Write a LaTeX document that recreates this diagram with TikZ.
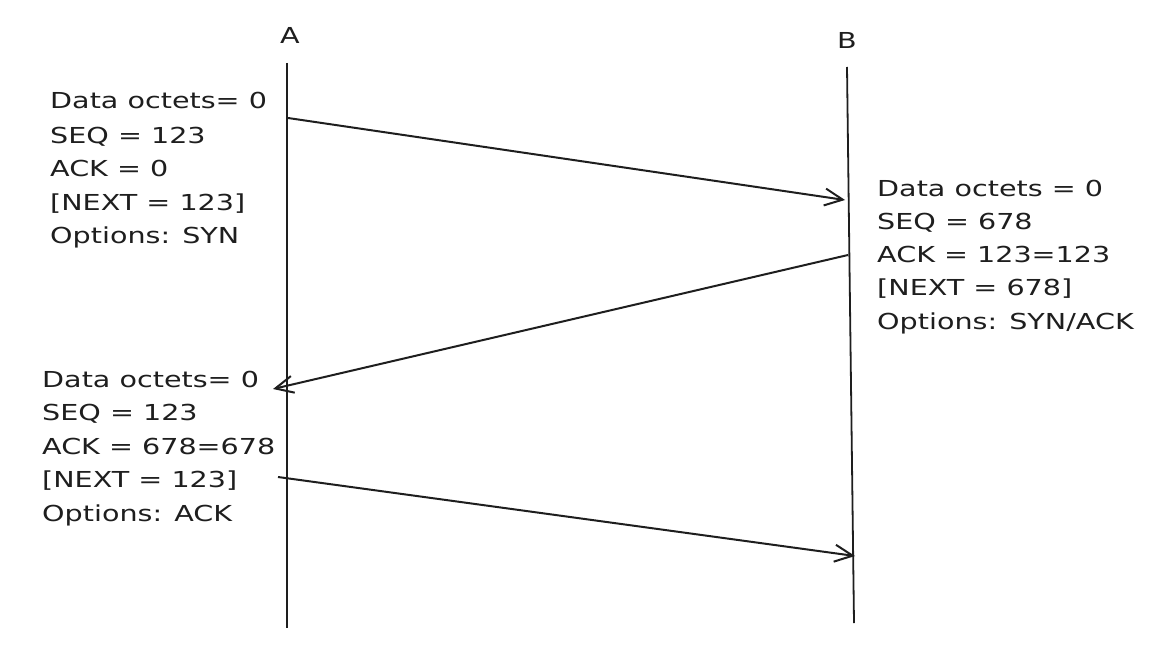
\documentclass[tikz,border=0pt]{standalone}
\usepackage{fontspec}
\newfontfamily\hand[FakeStretch=1.3]{DejaVu Sans}
\usetikzlibrary{arrows.meta}
\definecolor{ink}{HTML}{1E1E1E}
\begin{document}
\begin{tikzpicture}[x=1pt,y=-1pt,
  life/.style={draw=ink, line width=1.8pt},
  msg/.style={draw=ink, line width=2pt, -{Straight Barb[length=18pt,width=17pt]}},
  txt/.style={anchor=base west, inner sep=0pt, text=ink, font=\hand\fontsize{22}{28}\selectfont},
  lbl/.style={inner sep=0pt, text=ink, font=\hand\fontsize{22}{28}\selectfont}]
\useasboundingbox (0,0) rectangle (1172,658);
% lifelines
\coordinate (Atop) at (287,63);
\coordinate (Abot) at (287,628);
\coordinate (Btop) at (847,67);
\coordinate (Bbot) at (854,623);
\draw[life] (Atop) -- (Abot);
\draw[life] (Btop) -- (Bbot);
\node[lbl] (A) at (290,35) {A};
\node[lbl] (B) at (847,40) {B};
% message endpoints
\coordinate (m1s) at (288,118);
\coordinate (m1e) at (845,200);
\coordinate (m2s) at (848,255);
\coordinate (m2e) at (273,389);
\coordinate (m3s) at (278,477);
\coordinate (m3e) at (855,556);
\draw[msg] (m1s) -- (m1e);
\draw[msg] (m2s) -- (m2e);
\draw[msg] (m3s) -- (m3e);
% block 1
\node[txt] (a1) at (50,109) {Data octets= 0};
\node[txt] (a2) at (50,143) {SEQ = 123};
\node[txt] (a3) at (50,176) {ACK = 0};
\node[txt] (a4) at (50,210) {[NEXT = 123]};
\node[txt] (a5) at (50,243) {Options: SYN};
% block 2
\node[txt] (b1) at (877,196) {Data octets = 0};
\node[txt] (b2) at (877,229) {SEQ = 678};
\node[txt] (b3) at (877,262) {ACK = 123=123};
\node[txt] (b4) at (877,295) {[NEXT = 678]};
\node[txt] (b5) at (877,329) {Options: SYN/ACK};
% block 3
\node[txt] (c1) at (42,387) {Data octets= 0};
\node[txt] (c2) at (42,420) {SEQ = 123};
\node[txt] (c3) at (42,454) {ACK = 678=678};
\node[txt] (c4) at (42,487) {[NEXT = 123]};
\node[txt] (c5) at (42,521) {Options: ACK};
\end{tikzpicture}
\end{document}
